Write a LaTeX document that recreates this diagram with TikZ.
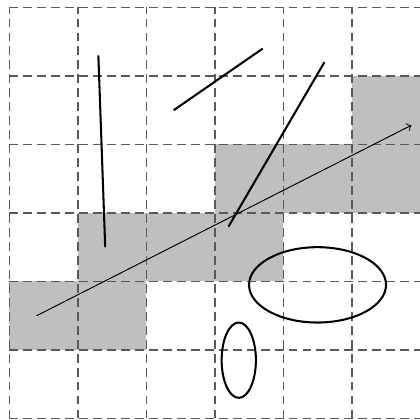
\documentclass[tikz,border=0pt]{standalone}
\usepackage{tikz}
\usetikzlibrary{calc}
\tikzset{
  cellfill/.style={fill=lightgray,draw=none},
  gridline/.style={draw=black!65,line width=0.6pt,dash pattern=on 3.7pt off 2.1pt},
  segment/.style={draw=black,line width=0.85pt},
  ray/.style={draw=black,line width=0.4pt,->}
}
\begin{document}
\begin{tikzpicture}
    \useasboundingbox (-0.136,-0.022) rectangle (5.996,6.109);
    \foreach \i/\j in {5/4,3/3,4/3,5/3,1/2,2/2,3/2,0/1,1/1}
      \fill [cellfill] (\i,\j) rectangle ++(1,1);
    \draw [gridline] (0,0) grid (6,6);
    \coordinate (p) at (0.4,1.5);
    \coordinate (q) at (5.87,4.28);
    \draw [ray] (p) -- (q);
    \draw [segment] (1.3,5.3) -- (1.4,2.5);
    \draw [segment] (2.4,4.5) -- (3.7,5.4);
    \draw [segment] (4.6,5.2) -- (3.2,2.8);
    \draw [segment] (4.5,1.95) ellipse [x radius=1,y radius=0.55];
    \draw [segment] (3.35,0.85) ellipse [x radius=0.25,y radius=0.55];
  \end{tikzpicture}
\end{document}
